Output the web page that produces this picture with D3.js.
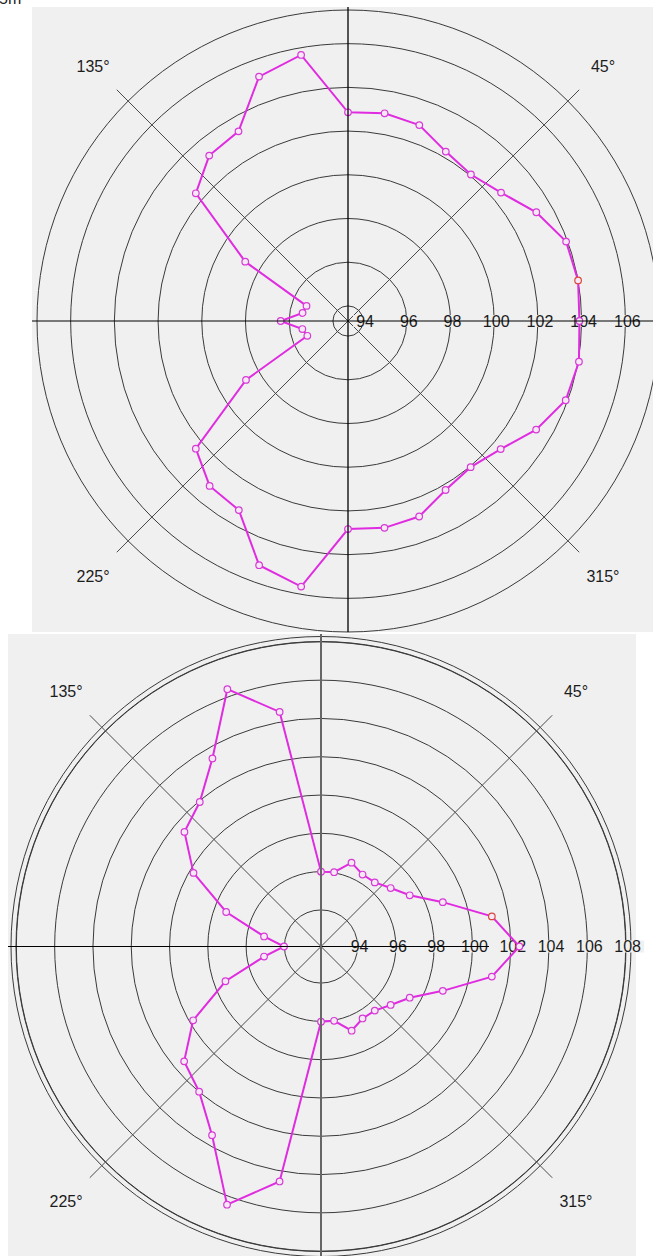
<!DOCTYPE html>
<html>
<head>
<meta charset="utf-8">
<script src="https://cdn.jsdelivr.net/npm/d3@7"></script>
<style>
  body { margin: 0; background: #fff; }
  svg { display: block; }
  text { font-family: 'Liberation Sans', Arial, sans-serif; font-size: 16px; fill: #1c1c1c; }
</style>
</head>
<body>
<div id="chart"></div>
<script>
// angles in degrees, counter-clockwise from east
const angles = d3.range(0, 360, 10);

const topValues = [
  103.9, 104.0, 103.93, 103.26, 102.45, 102.06, 102.26, 102.85, 102.96,
  102.86, 105.67, 105.21, 103.33, 103.19, 102.4, 98.74, 95.33, 95.42,
  96.39, 95.43, 95.29, 98.7, 102.4, 103.16, 103.3, 105.2, 105.65, 102.83,
  102.92, 102.83, 102.24, 102.04, 102.43, 103.25, 103.91, 104.04
];

const bottomValues = [
  102.45, 101.15, 98.86, 97.44, 96.84, 96.46, 96.43, 96.75, 96.03,
  96.0, 104.53, 106.39, 103.43, 101.94, 101.4, 99.78, 97.36, 95.11,
  94.02, 95.11, 97.4, 99.8, 101.42, 101.99, 103.47, 106.44, 104.55, 96.02,
  96.03, 96.77, 96.43, 96.46, 96.84, 97.44, 98.86, 101.15
];

const topTicks = [94, 96, 98, 100, 102, 104, 106];
const bottomTicks = [94, 96, 98, 100, 102, 104, 106, 108];
const angleLabels = [45, 135, 225, 315];
const selectedIndex = 1;

const svg = d3.select('#chart')
  .append('svg')
  .attr('width', 653)
  .attr('height', 1256);

svg.append('text')
  .attr('x', -1)
  .attr('y', 4)
  .text('5m');

function drawPolar(conf) {
  const { id, panel, cx, cy, domain, outerR, ticks, values, axisRightEnd, doubleRing, vColor, vWidth } = conf;

  svg.append('clipPath')
    .attr('id', 'clip-' + id)
    .append('rect')
    .attr('x', panel.x)
    .attr('y', panel.y)
    .attr('width', panel.w)
    .attr('height', panel.h);

  svg.append('rect')
    .attr('x', panel.x)
    .attr('y', panel.y)
    .attr('width', panel.w)
    .attr('height', panel.h)
    .attr('fill', '#f0f0f0');

  const r = d3.scaleLinear().domain(domain).range([0, outerR]);
  const g = svg.append('g').attr('transform', `translate(${cx},${cy})`);
  const gc = svg.append('g')
    .attr('clip-path', `url(#clip-${id})`)
    .append('g')
    .attr('transform', `translate(${cx},${cy})`);

  // rings
  g.selectAll('.ring')
    .data(ticks)
    .enter()
    .append('circle')
    .attr('r', d => r(d))
    .attr('fill', 'none')
    .attr('stroke', '#3a3a3a')
    .attr('stroke-width', 1);

  g.append('circle')
    .attr('r', outerR)
    .attr('fill', 'none')
    .attr('stroke', '#3a3a3a');
  if (doubleRing) {
    g.append('circle')
      .attr('r', outerR - 5)
      .attr('fill', 'none')
      .attr('stroke', '#3a3a3a');
  }

  // diagonals
  angleLabels.forEach(a => {
    const t = a * Math.PI / 180;
    g.append('line')
      .attr('x1', 0)
      .attr('y1', 0)
      .attr('x2', 327 * Math.cos(t))
      .attr('y2', -327 * Math.sin(t))
      .attr('stroke', '#4a4a4a')
      .attr('stroke-width', 1);
    g.append('text')
      .attr('x', 360.6 * Math.cos(t))
      .attr('y', -360.6 * Math.sin(t))
      .attr('dy', '0.35em')
      .attr('text-anchor', 'middle')
      .text(a + '°');
  });

  // axes
  gc.append('line')
    .attr('x1', -340).attr('x2', axisRightEnd)
    .attr('y1', 0).attr('y2', 0)
    .attr('stroke', '#000');
  gc.append('line')
    .attr('x1', 0).attr('x2', 0)
    .attr('y1', -340).attr('y2', 340)
    .attr('stroke', vColor)
    .attr('stroke-width', vWidth);

  // tick labels with background
  const tl = g.selectAll('.tick')
    .data(ticks)
    .enter()
    .append('g')
    .attr('transform', d => `translate(${r(d) + 2},0)`);
  tl.append('rect');
  tl.append('text')
    .attr('text-anchor', 'middle')
    .attr('dy', '0.35em')
    .text(d => d);
  tl.each(function () {
    const b = d3.select(this).select('text').node().getBBox();
    d3.select(this).select('rect')
      .attr('x', b.x - 3)
      .attr('y', -6)
      .attr('width', b.width + 6)
      .attr('height', 12)
      .attr('fill', '#f0f0f0');
  });

  // data
  const pts = angles.map((a, i) => ({ a: a, v: values[i] }));
  const line = d3.lineRadial()
    .angle(d => Math.PI / 2 - d.a * Math.PI / 180)
    .radius(d => r(d.v))
    .curve(d3.curveLinearClosed);

  g.append('path')
    .datum(pts)
    .attr('d', line)
    .attr('fill', 'none')
    .attr('stroke', '#e02ce0')
    .attr('stroke-width', 2);

  g.selectAll('.pt')
    .data(pts)
    .enter()
    .append('circle')
    .attr('cx', d => r(d.v) * Math.cos(d.a * Math.PI / 180))
    .attr('cy', d => -r(d.v) * Math.sin(d.a * Math.PI / 180))
    .attr('r', 3.3)
    .attr('fill', '#f6e8f6')
    .attr('stroke', (d, i) => (i === selectedIndex ? '#d8473a' : '#d63bd6'))
    .attr('stroke-width', 1.2);
}

drawPolar({
  id: 'top',
  panel: { x: 32, y: 7, w: 640, h: 625 },
  cx: 348,
  cy: 321,
  domain: [93.31, 107.54],
  outerR: 311,
  ticks: topTicks,
  values: topValues,
  axisRightEnd: 340,
  doubleRing: false,
  vColor: '#000',
  vWidth: 1.3
});

drawPolar({
  id: 'bottom',
  panel: { x: 8, y: 634, w: 628, h: 622 },
  cx: 321,
  cy: 946.5,
  domain: [92.09, 108.28],
  outerR: 310,
  ticks: bottomTicks,
  values: bottomValues,
  axisRightEnd: 168,
  doubleRing: true,
  vColor: '#666',
  vWidth: 2
});
</script>
</body>
</html>
